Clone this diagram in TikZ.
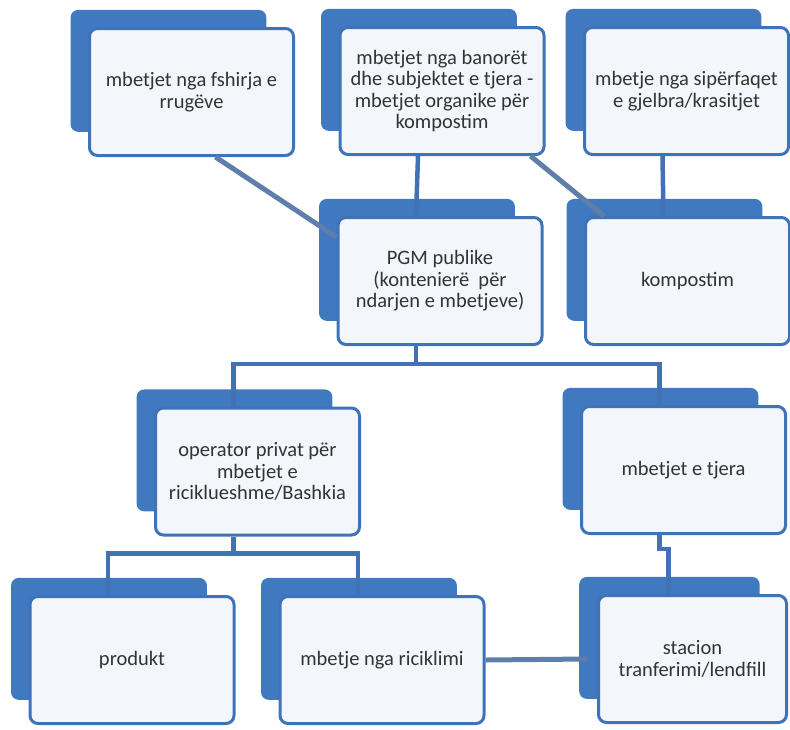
\documentclass[tikz,border=0pt]{standalone}
\usepackage{fontspec}
\setmainfont{Carlito}
\usepackage{tikz}
\usetikzlibrary{shadows}
\definecolor{boxblue}{HTML}{3E73B9}
\definecolor{backblue}{HTML}{4079C0}
\definecolor{boxfill}{HTML}{F3F6FB}
\definecolor{linkblue}{HTML}{4272B5}
\definecolor{linkgray}{HTML}{5F7FAA}
\definecolor{textgray}{HTML}{333333}

\begin{document}
\begin{tikzpicture}
  [x=1pt,y=-1pt,
   box/.style={rectangle, rounded corners=8pt, draw=boxblue, line width=3pt,
     fill=boxfill, text=textgray, align=center,
     minimum width=204pt, minimum height=127pt,
     font=\fontsize{20.5}{21.5}\selectfont,
     general shadow={fill=backblue, shadow xshift=-24pt, shadow yshift=22pt, shadow scale=0.96}},
   link/.style={draw=linkblue, line width=4.5pt},
   slant/.style={draw=linkgray, line width=5pt}]
  \useasboundingbox (0,0) rectangle (790,729);

  \node[box] (fshirja) at (191.5,92) {mbetjet nga fshirja e\\rrugëve};
  \node[box] (banoret) at (442,91) {mbetjet nga banorët\\dhe subjektet e tjera -\\mbetjet organike për\\kompostim};
  \node[box] (siperf) at (686.5,91) {mbetje nga sipërfaqet\\e gjelbra/krasitjet};
  \node[box] (pgm) at (440,281) {PGM publike\\(kontenierë~~për\\ndarjen e mbetjeve)};
  \node[box] (kompost) at (687.5,281) {kompostim};
  \node[box] (operator) at (257.5,471.5) {operator privat për\\mbetjet e\\riciklueshme/Bashkia};
  \node[box] (tjera) at (683.5,470) {mbetjet e tjera};
  \node[box] (produkt) at (132,660) {produkt};
  \node[box] (riciklimi) at (382,660) {mbetje nga riciklimi};
  \node[box, minimum width=188pt] (stacion) at (692.5,659) {stacion\\tranferimi/lendfill};

  \foreach \from/\to in {banoret/pgm,siperf/kompost}
    \draw[link] ([xshift=-24pt]\from.south) -- ([xshift=-24pt]\to.north);
  \foreach \from/\to/\drop in {pgm/operator/18,pgm/tjera/18,operator/produkt/17,operator/riciklimi/17,tjera/stacion/14}
    \draw[link] ([xshift=-24pt]\from.south) -- ++(0,\drop) -| ([xshift=-24pt]\to.north);

  \draw[slant] ([xshift=24pt]fshirja.south) -- ([yshift=44pt]pgm.west);
  \draw[slant] ([xshift=-15pt]banoret.south east) -- ([xshift=20pt]kompost.north west);
  \draw[slant] (riciklimi.east) -- ([xshift=-10pt]stacion.west);
\end{tikzpicture}
\end{document}
